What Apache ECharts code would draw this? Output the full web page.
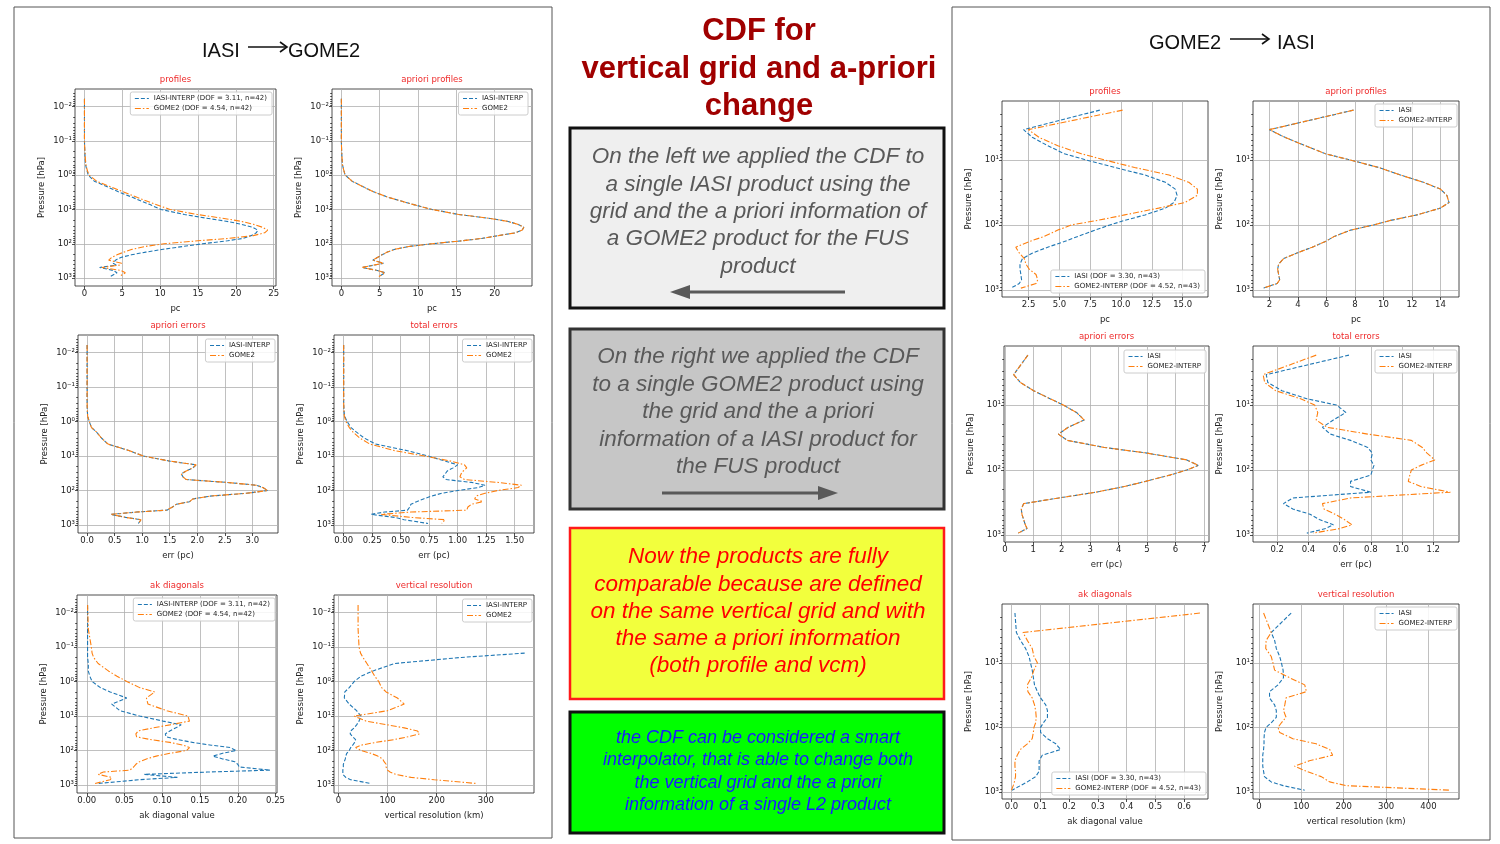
<!DOCTYPE html>
<html>
<head>
<meta charset="utf-8">
<script src="https://cdn.jsdelivr.net/npm/echarts@6/dist/echarts.min.js"></script>
<style>
  html, body { margin: 0; background: #fff; }
  #main { width: 1500px; height: 844px; }
</style>
</head>
<body>
<div id="main"></div>
<script>
// pressure levels (hPa)
const pLeft = [0.006, 0.03, 0.1, 0.15, 0.2, 0.3, 0.5, 0.7, 1, 1.5, 2, 3, 4.5, 7, 10, 14, 18, 22, 27, 33, 40, 48, 58, 70, 82, 100, 120, 145, 175, 210, 250, 300, 370, 420, 490, 600, 700, 900];
const pRight = [1.7, 3.4, 4.5, 6, 8, 10, 13, 17, 22, 28, 35, 45, 55, 70, 85, 100, 120, 150, 180, 220, 270, 330, 400, 480, 580, 700, 800, 940];

// left panel : IASI -> GOME2 grid
const profIasiL = [0, 0, 0, 0.02, 0.05, 0.08, 0.15, 0.3, 0.5, 1.3, 2.6, 4.4, 6.4, 8.5, 10.1, 13.2, 16.1, 18.7, 20.7, 22.2, 22.9, 22.7, 22.0, 20.9, 18.9, 15.6, 13.0, 10.4, 8.1, 6.2, 4.8, 4.1, 3.8, 4.2, 2.0, 3.8, 4.3, 3.4];
const profGomeL = [0, 0, 0, 0.03, 0.06, 0.1, 0.2, 0.35, 0.6, 1.6, 3.0, 5.0, 7.0, 9.3, 11.3, 14.9, 18.2, 20.6, 22.3, 23.5, 24.2, 23.8, 22.3, 19.0, 15.0, 10.5, 8.0, 6.3, 5.2, 4.3, 3.6, 3.2, 4.9, 4.6, 2.3, 4.8, 5.4, 4.6];
const apriL = [0, 0, 0, 0.02, 0.04, 0.08, 0.15, 0.3, 0.5, 1.4, 2.5, 4.1, 6.2, 9.2, 11.8, 15.3, 19.2, 21.6, 23.0, 23.8, 23.6, 22.7, 20.5, 18.3, 15.7, 11.8, 8.8, 7.0, 6.0, 5.3, 4.7, 4.1, 5.5, 4.2, 2.7, 4.7, 5.7, 4.9];
const apriErrL = [0, 0, 0, 0, 0, 0, 0.005, 0.01, 0.04, 0.08, 0.17, 0.26, 0.38, 0.77, 1.02, 1.5, 1.98, 1.92, 1.8, 1.71, 1.74, 1.8, 2.53, 3.07, 3.19, 3.28, 2.89, 2.23, 1.92, 1.86, 1.62, 1.55, 1.45, 0.9, 0.43, 0.7, 0.98, 0.93];
const totErrIasiL = [0, 0, 0, 0, 0, 0, 0.003, 0.008, 0.03, 0.065, 0.11, 0.18, 0.28, 0.56, 0.74, 0.89, 1.0, 0.96, 0.91, 0.89, 0.87, 0.9, 1.12, 1.24, 1.18, 1.0, 0.86, 0.77, 0.7, 0.64, 0.59, 0.58, 0.56, 0.36, 0.24, 0.45, 0.53, 0.74];
const totErrGomeL = [0, 0, 0, 0, 0, 0, 0.003, 0.006, 0.02, 0.05, 0.08, 0.14, 0.23, 0.45, 0.71, 0.94, 1.06, 1.08, 1.05, 1.03, 1.02, 1.06, 1.35, 1.56, 1.53, 1.35, 1.24, 1.16, 1.15, 1.22, 1.12, 1.09, 1.08, 0.59, 0.33, 0.59, 0.89, 0.86];
const akIasiL = [0.001, 0.001, 0.001, 0.001, 0.001, 0.002, 0.002, 0.004, 0.007, 0.018, 0.031, 0.053, 0.033, 0.044, 0.07, 0.101, 0.125, 0.118, 0.11, 0.104, 0.105, 0.12, 0.14, 0.165, 0.19, 0.198, 0.18, 0.167, 0.18, 0.196, 0.2, 0.202, 0.243, 0.16, 0.076, 0.12, 0.07, 0.015];
const akGomeL = [0.001, 0.002, 0.006, 0.007, 0.009, 0.015, 0.029, 0.04, 0.053, 0.07, 0.09, 0.079, 0.081, 0.106, 0.134, 0.136, 0.11, 0.088, 0.068, 0.065, 0.066, 0.084, 0.11, 0.128, 0.136, 0.132, 0.11, 0.092, 0.079, 0.07, 0.065, 0.062, 0.057, 0.022, 0.015, 0.033, 0.031, 0.011];
const vrIasiL = [null, null, null, 379, 250, 114, 69, 46, 32, 22, 13, 12, 22, 37, 46, 42, 37, 32, 25, 24, 29, 35, 33, 29, 25, 22, 17, 15, 14, 12, 10, 10, 9, 8, 9, 15, 25, 65];
const vrGomeL = [40, 40, 42, 45, 50, 58, 68, 74, 82, 88, 97, 120, 134, 100, 32, 56, 100, 134, 161, 165, 141, 114, 76, 46, 35, 46, 66, 80, 90, 93, 97, 97, 100, 105, 117, 148, 195, 280];

// right panel : GOME2 -> IASI grid
const profIasiR = [8.28, 2.09, 2.83, 4.05, 5.4, 7.2, 9.5, 11.95, 13.6, 14.4, 14.55, 14.3, 13.6, 11.95, 10.3, 9.1, 7.9, 6.5, 5.4, 4.05, 2.83, 2.0, 1.8, 1.8, 1.87, 1.93, 1.74, 1.06];
const profGomeR = [10.13, 2.47, 3.37, 4.87, 6.78, 8.7, 11.1, 13.9, 15.5, 16.2, 16.2, 15.2, 13.05, 10.3, 8.1, 5.96, 4.87, 3.78, 2.55, 1.46, 1.74, 2.15, 2.28, 2.55, 3.1, 3.24, 3.1, 1.87];
const apriR = [7.9, 2.0, 3.12, 4.52, 5.93, 7.68, 9.66, 11.2, 12.8, 14.0, 14.45, 14.6, 14.0, 12.35, 10.5, 9.3, 7.7, 6.55, 5.93, 5.0, 3.94, 3.0, 2.65, 2.58, 2.65, 2.72, 2.54, 1.56];
const apriErrR = [0.81, 0.31, 0.55, 1.01, 1.59, 2.06, 2.52, 2.79, 2.23, 1.88, 2.2, 3.5, 5.0, 6.4, 6.8, 6.4, 5.8, 4.95, 4.2, 3.2, 1.9, 0.66, 0.58, 0.6, 0.66, 0.72, 0.78, 0.47];
const totErrIasiR = [0.66, 0.13, 0.14, 0.23, 0.39, 0.58, 0.64, 0.56, 0.49, 0.54, 0.67, 0.78, 0.81, 0.80, 0.82, 0.81, 0.80, 0.67, 0.67, 0.80, 0.30, 0.24, 0.30, 0.41, 0.47, 0.56, 0.51, 0.39];
const totErrGomeR = [0.45, 0.11, 0.12, 0.19, 0.35, 0.44, 0.46, 0.45, 0.52, 0.78, 1.06, 1.13, 1.16, 1.21, 1.12, 1.06, 1.05, 1.04, 1.12, 1.31, 0.67, 0.49, 0.50, 0.57, 0.63, 0.68, 0.60, 0.43];
const akIasiR = [0.012, 0.017, 0.031, 0.049, 0.061, 0.066, 0.072, 0.076, 0.080, 0.090, 0.101, 0.119, 0.125, 0.125, 0.111, 0.101, 0.101, 0.125, 0.154, 0.171, 0.107, 0.096, 0.096, 0.096, 0.084, 0.055, 0.031, 0.002];
const akGomeR = [0.655, 0.040, 0.055, 0.072, 0.078, 0.090, 0.078, 0.069, 0.055, 0.057, 0.072, 0.080, 0.084, 0.086, 0.084, 0.078, 0.076, 0.072, 0.055, 0.031, 0.020, 0.012, 0.012, 0.014, 0.014, 0.010, 0.006, 0.0];
const vrIasiR = [76, 29, 37, 41, 49, 53, 57, 58, 45, 25, 25, 37, 41, 41, 29, 17, 13, 12, 12, 11, 9, 9, 9, 11, 13, 29, 57, 108];
const vrGomeR = [11, 29, 17, 16, 29, 33, 37, 72, 108, 112, 64, 61, 58, 64, 53, 45, 49, 80, 135, 167, 174, 119, 84, 112, 147, 167, 206, 449];

// tick values
const ytL = [0.01, 0.1, 1, 10, 100, 1000];
const ytR = [10, 100, 1000];
const xtL1 = [0, 5, 10, 15, 20, 25];
const xtL2 = [0, 5, 10, 15, 20];
const xtL3 = [0, 0.5, 1, 1.5, 2, 2.5, 3];
const xtL4 = [0, 0.25, 0.5, 0.75, 1, 1.25, 1.5];
const xtL5 = [0, 0.05, 0.1, 0.15, 0.2, 0.25];
const xtL6 = [0, 100, 200, 300];
const xtR1 = [2.5, 5, 7.5, 10, 12.5, 15];
const xtR2 = [2, 4, 6, 8, 10, 12, 14];
const xtR3 = [0, 1, 2, 3, 4, 5, 6, 7];
const xtR4 = [0.2, 0.4, 0.6, 0.8, 1, 1.2];
const xtR5 = [0, 0.1, 0.2, 0.3, 0.4, 0.5, 0.6];
const xtR6 = [0, 100, 200, 300, 400];

// series names
const nIasiDofL = 'IASI-INTERP (DOF = 3.11, n=42)';
const nGomeDofL = 'GOME2 (DOF = 4.54, n=42)';
const nIasiL = 'IASI-INTERP';
const nGomeL = 'GOME2';
const nIasiDofR = 'IASI (DOF = 3.30, n=43)';
const nGomeDofR = 'GOME2-INTERP (DOF = 4.52, n=43)';
const nIasiR = 'IASI';
const nGomeR = 'GOME2-INTERP';

const FONT = 'DejaVu Sans';
const SANS = '"Liberation Sans", Arial, sans-serif';
const INK = '#222';
const yrL = [0.0031, 1700];
const yrR = [1.23, 1288];

// box = [left, top, right, bottom], leg = [right, top]
const charts = [
  { title: 'profiles', box: [75, 89, 276, 286], xr: [-1.25, 25.3], xt: xtL1, dec: 0, xName: 'pc', p: pLeft, yr: yrL, yt: ytL, names: [nIasiDofL, nGomeDofL], vals: [profIasiL, profGomeL], leg: [1228, 92] },
  { title: 'apriori profiles', box: [332, 89, 532, 286], xr: [-1.22, 24.87], xt: xtL2, dec: 0, xName: 'pc', p: pLeft, yr: yrL, yt: ytL, names: [nIasiL, nGomeL], vals: [apriL, apriL], leg: [972, 92] },
  { title: 'apriori errors', box: [78, 335, 278, 533], xr: [-0.165, 3.465], xt: xtL3, dec: 1, xName: 'err (pc)', p: pLeft, yr: yrL, yt: ytL, names: [nIasiL, nGomeL], vals: [apriErrL, apriErrL], leg: [1225, 339] },
  { title: 'total errors', box: [334, 335, 534, 533], xr: [-0.085, 1.67], xt: xtL4, dec: 2, xName: 'err (pc)', p: pLeft, yr: yrL, yt: ytL, names: [nIasiL, nGomeL], vals: [totErrIasiL, totErrGomeL], leg: [968, 339] },
  { title: 'ak diagonals', box: [77, 595, 277, 793], xr: [-0.013, 0.252], xt: xtL5, dec: 2, xName: 'ak diagonal value', p: pLeft, yr: yrL, yt: ytL, names: [nIasiDofL, nGomeDofL], vals: [akIasiL, akGomeL], leg: [1225, 598] },
  { title: 'vertical resolution', box: [334, 595, 534, 793], xr: [-9, 398], xt: xtL6, dec: 0, xName: 'vertical resolution (km)', p: pLeft, yr: yrL, yt: ytL, names: [nIasiL, nGomeL], vals: [vrIasiL, vrGomeL], leg: [968, 599] },
  { title: 'profiles', box: [1002, 101, 1208, 297], xr: [0.34, 17.06], xt: xtR1, dec: 1, xName: 'pc', p: pRight, yr: yrR, yt: ytR, names: [nIasiDofR, nGomeDofR], vals: [profIasiR, profGomeR], leg: [295, 270] },
  { title: 'apriori profiles', box: [1253, 101, 1459, 297], xr: [0.85, 15.3], xt: xtR2, dec: 0, xName: 'pc', p: pRight, yr: yrR, yt: ytR, names: [nIasiR, nGomeR], vals: [apriR, apriR], leg: [43, 104] },
  { title: 'apriori errors', box: [1004, 346, 1209, 542], xr: [-0.03, 7.18], xt: xtR3, dec: 0, xName: 'err (pc)', p: pRight, yr: yrR, yt: ytR, names: [nIasiR, nGomeR], vals: [apriErrR, apriErrR], leg: [294, 350] },
  { title: 'total errors', box: [1253, 346, 1459, 542], xr: [0.045, 1.365], xt: xtR4, dec: 1, xName: 'err (pc)', p: pRight, yr: yrR, yt: ytR, names: [nIasiR, nGomeR], vals: [totErrIasiR, totErrGomeR], leg: [43, 350] },
  { title: 'ak diagonals', box: [1002, 604, 1208, 799], xr: [-0.033, 0.683], xt: xtR5, dec: 1, xName: 'ak diagonal value', p: pRight, yr: yrR, yt: ytR, names: [nIasiDofR, nGomeDofR], vals: [akIasiR, akGomeR], leg: [294, 772] },
  { title: 'vertical resolution', box: [1253, 604, 1459, 799], xr: [-14, 472], xt: xtR6, dec: 0, xName: 'vertical resolution (km)', p: pRight, yr: yrR, yt: ytR, names: [nIasiR, nGomeR], vals: [vrIasiR, vrGomeR], leg: [43, 607] }
];

const lineStyles = [
  { color: '#1f77b4', width: 1.1, type: [4, 2] },
  { color: '#ff7f0e', width: 1.1, type: [6, 2, 1.5, 2] }
];

const sup = { '-': '\u207B', '0': '\u2070', '1': '\u00B9', '2': '\u00B2', '3': '\u00B3' };
function logLabel (v) {
  const lg = Math.log10(v);
  const e = Math.round(lg);
  if (Math.abs(lg - e) > 1e-6) return '';
  return '10' + String(e).split('').map(ch => sup[ch]).join('');
}

// minor log ticks 2..9 x 10^k inside the range
function minorTicks (yr) {
  const out = [];
  for (let k = -3; k <= 3; k++) {
    for (let m = 2; m <= 9; m++) {
      const v = m * Math.pow(10, k);
      if (v > yr[0] && v < yr[1]) out.push(v);
    }
  }
  return out;
}

const tickStyle = { color: INK, width: 0.8 };
const labelFont = { fontSize: 8.5, color: INK, fontFamily: FONT };
const nameFont = { fontSize: 8.5, color: INK, fontFamily: FONT };

const option = {
  animation: false,
  textStyle: { fontFamily: FONT },
  grid: [], xAxis: [], yAxis: [], series: [], legend: [],
  graphic: { elements: [] }
};

charts.forEach((c, i) => {
  const [l, t, r, b] = c.box;
  option.grid.push({
    left: l, top: t, width: r - l, height: b - t,
    show: true, borderColor: INK, borderWidth: 0.8, backgroundColor: 'transparent',
    outerBoundsMode: 'none'
  });
  option.xAxis.push({
    gridIndex: i, type: 'value', min: c.xr[0], max: c.xr[1], position: 'bottom',
    name: c.xName, nameLocation: 'middle', nameGap: 18, nameTextStyle: nameFont,
    axisLine: { show: false, onZero: false },
    axisTick: { customValues: c.xt, length: 3, lineStyle: tickStyle },
    axisLabel: Object.assign({ customValues: c.xt, margin: 3, formatter: v => v.toFixed(c.dec) }, labelFont),
    splitLine: { show: true, lineStyle: { color: '#b0b0b0', width: 0.8 } }
  });
  option.yAxis.push({
    gridIndex: i, type: 'log', logBase: 10, inverse: true, min: c.yr[0], max: c.yr[1], position: 'left',
    name: 'Pressure [hPa]', nameLocation: 'middle', nameGap: 29, nameTextStyle: nameFont,
    axisLine: { show: false, onZero: false },
    axisTick: { customValues: c.yt, length: 3, lineStyle: tickStyle },
    axisLabel: Object.assign({ customValues: c.yt, margin: 3, formatter: logLabel }, labelFont),
    splitLine: { show: true, lineStyle: { color: '#b0b0b0', width: 0.8 } }
  });
  option.yAxis.push({
    gridIndex: i, type: 'log', logBase: 10, inverse: true, min: c.yr[0], max: c.yr[1], position: 'left',
    axisLine: { show: false, onZero: false },
    axisTick: { customValues: minorTicks(c.yr), length: 1.8, lineStyle: tickStyle },
    axisLabel: { show: false },
    splitLine: { show: false }
  });
  c.vals.forEach((vals, k) => {
    option.series.push({
      type: 'line', name: c.names[k], xAxisIndex: i, yAxisIndex: 2 * i,
      symbol: 'none', lineStyle: lineStyles[k], itemStyle: { color: lineStyles[k].color },
      data: c.p.map((pv, j) => [vals[j], pv]).filter(d => d[0] != null)
    });
  });
  option.legend.push({
    data: c.names, right: c.leg[0], top: c.leg[1], orient: 'vertical',
    itemWidth: 14, itemHeight: 7, itemGap: 3, padding: [3, 5, 3, 4],
    backgroundColor: 'rgba(255,255,255,0.85)', borderColor: '#cccccc', borderWidth: 1, borderRadius: 2,
    textStyle: { fontSize: 7, color: INK, fontFamily: FONT },
    itemStyle: { opacity: 0 }, lineStyle: { width: 1.1 },
    selectedMode: false
  });
  option.graphic.elements.push({
    type: 'text', x: (l + r) / 2, y: t - 9, z: 10,
    style: { text: c.title, fill: '#ee2a2a', font: '8.5px "' + FONT + '"', align: 'center', verticalAlign: 'middle' }
  });
});

// slide decoration
const g = option.graphic.elements;
function txt (x, y, s, font, fill, align) {
  g.push({ type: 'text', x, y, z: 20, style: { text: s, font, fill, align: align || 'center', verticalAlign: 'middle' } });
}
function box (x, y, w, h, fill, stroke, lw) {
  g.push({ type: 'rect', z: 5, shape: { x, y, width: w, height: h }, style: { fill, stroke, lineWidth: lw } });
}
function arrow (x1, x2, y, color, w, head) {
  const dir = x2 > x1 ? 1 : -1;
  g.push({ type: 'line', z: 20, shape: { x1, y1: y, x2: x2 - dir * head, y2: y }, style: { stroke: color, lineWidth: w } });
  g.push({ type: 'polygon', z: 20, shape: { points: [[x2, y], [x2 - dir * head, y - 7], [x2 - dir * head, y + 7]] }, style: { fill: color } });
}
function thinArrow (x1, x2, y) {
  g.push({ type: 'line', z: 20, shape: { x1, y1: y, x2, y2: y }, style: { stroke: '#111', lineWidth: 1.6 } });
  g.push({ type: 'polyline', z: 20, shape: { points: [[x2 - 7, y - 5], [x2, y], [x2 - 7, y + 5]] }, style: { stroke: '#111', lineWidth: 1.6, fill: null } });
}

// panel frames
box(14, 7, 538, 831, 'none', '#555', 1);
box(952, 7, 538, 833, 'none', '#555', 1);

// panel titles
txt(202, 51, 'IASI', '20px ' + SANS, '#111', 'left');
thinArrow(248, 287, 47);
txt(288, 51, 'GOME2', '20px ' + SANS, '#111', 'left');
txt(1149, 43, 'GOME2', '20px ' + SANS, '#111', 'left');
thinArrow(1230, 1269, 39);
txt(1277, 43, 'IASI', '20px ' + SANS, '#111', 'left');

// centre column
const red = '#a00000';
txt(759, 31, 'CDF for', 'bold 31px ' + SANS, red);
txt(759, 69, 'vertical grid and a-priori', 'bold 31px ' + SANS, red);
txt(759, 106, 'change', 'bold 31px ' + SANS, red);

const box1Lines = ['On the left we applied the CDF to', 'a single IASI product using the', 'grid and the a priori information of', 'a GOME2 product for the FUS', 'product'];
const box2Lines = ['On the right we applied the CDF', 'to a single GOME2 product using', 'the grid and the a priori', 'information of a IASI product for', 'the FUS product'];
const box3Lines = ['Now the products are fully', 'comparable because are defined', 'on the same vertical grid and with', 'the same a priori information', '(both profile and vcm)'];
const box4Lines = ['the CDF can be considered a smart', 'interpolator, that is able to change both', 'the vertical grid and the a priori', 'information of a single L2 product'];

box(570, 128, 374, 180, '#efefef', '#111', 3);
box1Lines.forEach((s, k) => txt(758, 157 + k * 27.4, s, 'italic 22.5px ' + SANS, '#595959'));
arrow(845, 670, 292, '#595959', 3, 20);

box(570, 329, 374, 180, '#c6c6c6', '#333', 3);
box2Lines.forEach((s, k) => txt(758, 357 + k * 27.5, s, 'italic 22.5px ' + SANS, '#595959'));
arrow(662, 838, 493, '#595959', 3, 20);

box(570, 528, 374, 171, '#f2ff3d', '#ff1a1a', 2.5);
box3Lines.forEach((s, k) => txt(758, 557 + k * 27.3, s, 'italic 22.5px ' + SANS, '#ff0000'));

box(570, 712, 374, 121, '#00ff00', '#111', 3);
box4Lines.forEach((s, k) => txt(758, 738 + k * 22.4, s, 'italic 18px ' + SANS, '#1a1aff'));

const chart = echarts.init(document.getElementById('main'));
chart.setOption(option);
</script>
</body>
</html>
